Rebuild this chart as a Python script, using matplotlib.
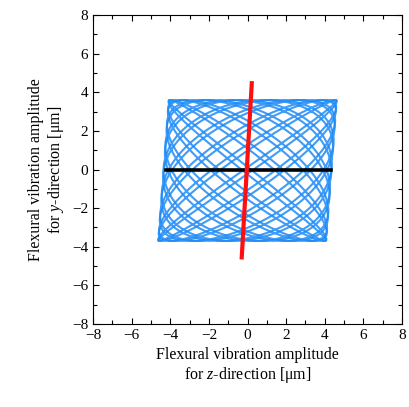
import matplotlib
matplotlib.use('Agg')
import matplotlib.pyplot as plt
import numpy as np

plt.rcParams['font.family'] = ['Liberation Serif', 'DejaVu Serif']
plt.rcParams['mathtext.fontset'] = 'custom'
plt.rcParams['mathtext.rm'] = 'Liberation Serif'
plt.rcParams['mathtext.it'] = 'Liberation Serif:italic'

# orbit parameters (um)
z_amp      = 4.35
y_amp      = 3.65
y_offset   = -0.05
shear      = 0.075
z_cycles   = 9
y_cycles   = 8
phases     = [0.30, 0.40]   # two passes, slightly drifted

# straight traces: endpoints (z, y)
black_z = [-4.22, 4.31]
black_y = [0.0, 0.0]
red_z   = [-0.30, 0.22]
red_y   = [-4.55, 4.47]

ticks = [-8, -6, -4, -2, 0, 2, 4, 6, 8]


def main():
    fig = plt.figure(figsize=(4.09, 4.07), dpi=100)
    ax  = fig.add_axes([0.2274, 0.204, 0.7556, 0.759])

    t = np.linspace(0, 2 * np.pi, 8000)
    for ph in phases:
        y = y_amp * np.sin(y_cycles * t + ph) + y_offset
        z = z_amp * np.sin(z_cycles * t) + shear * y
        ax.plot(z, y, color='#1e8bf5', linewidth=1.5, alpha=0.85)

    ax.plot(black_z, black_y, color='black', linewidth=2.6)
    ax.plot(red_z, red_y, color='#ff1010', linewidth=3.0)

    ax.set_xlim(-8, 8)
    ax.set_ylim(-8, 8)
    ax.set_xticks(ticks)
    ax.set_yticks(ticks)
    ax.set_xticks(np.arange(-8, 9, 1), minor=True)
    ax.set_yticks(np.arange(-8, 9, 1), minor=True)
    ax.tick_params(which='both', direction='in', top=True, right=True, labelsize=11)
    ax.tick_params(which='major', length=4, width=0.8)
    ax.tick_params(which='minor', length=3, width=0.8)

    ax.set_xlabel('Flexural vibration amplitude\nfor $z$-direction [\u03bcm]', fontsize=11.5, linespacing=1.15)
    ax.set_ylabel('Flexural vibration amplitude\nfor $y$-direction [\u03bcm]', fontsize=11.5, linespacing=1.15)

    fig.savefig('out.png', dpi=100)


if __name__ == '__main__':
    main()
